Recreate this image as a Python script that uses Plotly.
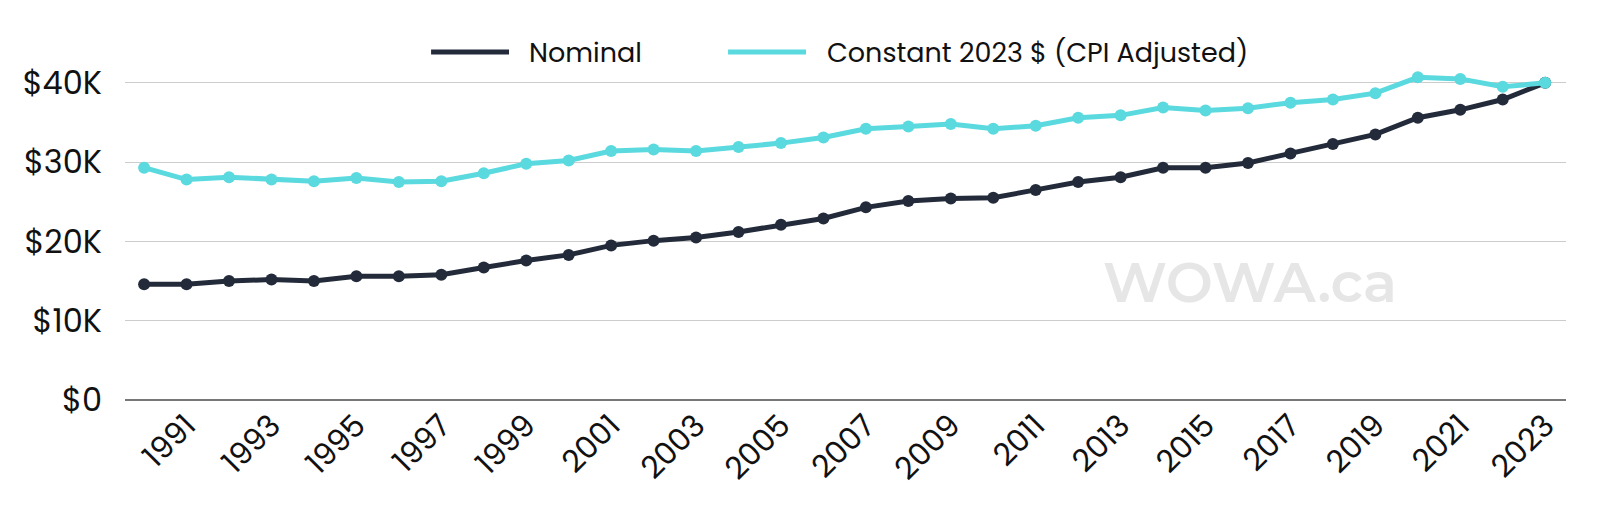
import plotly.graph_objects as go

years = list(range(1990, 2024))
nominal = [14.6, 14.6, 15.0, 15.2, 15.0, 15.6, 15.6, 15.8, 16.7, 17.6,
           18.3, 19.5, 20.1, 20.5, 21.2, 22.1, 22.9, 24.3, 25.1, 25.4,
           25.5, 26.5, 27.5, 28.1, 29.3, 29.3, 29.9, 31.1, 32.3, 33.5,
           35.6, 36.6, 37.9, 40.0]
constant = [29.3, 27.8, 28.1, 27.8, 27.6, 28.0, 27.5, 27.6, 28.6, 29.8,
            30.2, 31.4, 31.6, 31.4, 31.9, 32.4, 33.1, 34.2, 34.5, 34.8,
            34.2, 34.6, 35.6, 35.9, 36.9, 36.5, 36.8, 37.5, 37.9, 38.7,
            40.7, 40.5, 39.5, 40.0]
nominal = [v * 1000 for v in nominal]
constant = [v * 1000 for v in constant]

series_names = ["Nominal", "Constant 2023 $ (CPI Adjusted)"]
x_ticks = list(range(1991, 2024, 2))
y_ticks = [0, 10000, 20000, 30000, 40000]
y_tick_labels = ["$0", "$10K", "$20K", "$30K", "$40K"]

NAVY = "#232b3b"
CYAN = "#5ad9df"
FONT = "Poppins, 'Open Sans', Lato, sans-serif"

fig = go.Figure()
fig.add_trace(go.Scatter(x=years, y=nominal, mode="lines+markers", name=series_names[0],
                         line=dict(color=NAVY, width=5), marker=dict(size=12, color=NAVY),
                         showlegend=False))
fig.add_trace(go.Scatter(x=years, y=constant, mode="lines+markers", name=series_names[1],
                         line=dict(color=CYAN, width=5), marker=dict(size=12, color=CYAN),
                         showlegend=False))

# custom legend (line swatch + label), placed above the plot area
legend_y = 1.045
for (x0, x1, tx), name, col in zip([(0.2124, 0.2665, 0.2790), (0.4185, 0.4726, 0.4858)],
                                   series_names, [NAVY, CYAN]):
    fig.add_shape(type="line", xref="paper", yref="paper", x0=x0, x1=x1,
                  y0=legend_y, y1=legend_y, line=dict(color=col, width=5))
    fig.add_annotation(text=name, xref="paper", yref="paper", x=tx, y=legend_y,
                       xanchor="left", yanchor="middle", showarrow=False,
                       font=dict(size=27, color="#111111"))

fig.add_annotation(text="WOWA.ca", x=2016.05, y=14900, xref="x", yref="y",
                   showarrow=False, font=dict(family="Montserrat, 'Open Sans', sans-serif",
                                              size=56, color="#e6e6e6", weight=600))

fig.update_layout(
    width=1620, height=510,
    paper_bgcolor="white", plot_bgcolor="white",
    margin=dict(l=117, r=62, t=59, b=118, autoexpand=False),
    font=dict(family=FONT, color="#111111"),
    showlegend=False,
    xaxis=dict(range=[1989.55, 2023.49], tickvals=x_ticks, ticktext=[str(v) for v in x_ticks],
               tickangle=-45, tickfont=dict(size=31), showgrid=False, zeroline=False,
               ticks="", showline=False, automargin=False),
    yaxis=dict(range=[0, 42000], tickvals=y_ticks, ticktext=y_tick_labels,
               tickfont=dict(size=32), showgrid=True, gridcolor="#cccccc", gridwidth=1,
               zeroline=True, zerolinecolor="#777777", zerolinewidth=1.5,
               ticks="", ticklen=0, showline=False, automargin=False,
               ticklabelstandoff=22),
)

fig.write_html("out.html")
